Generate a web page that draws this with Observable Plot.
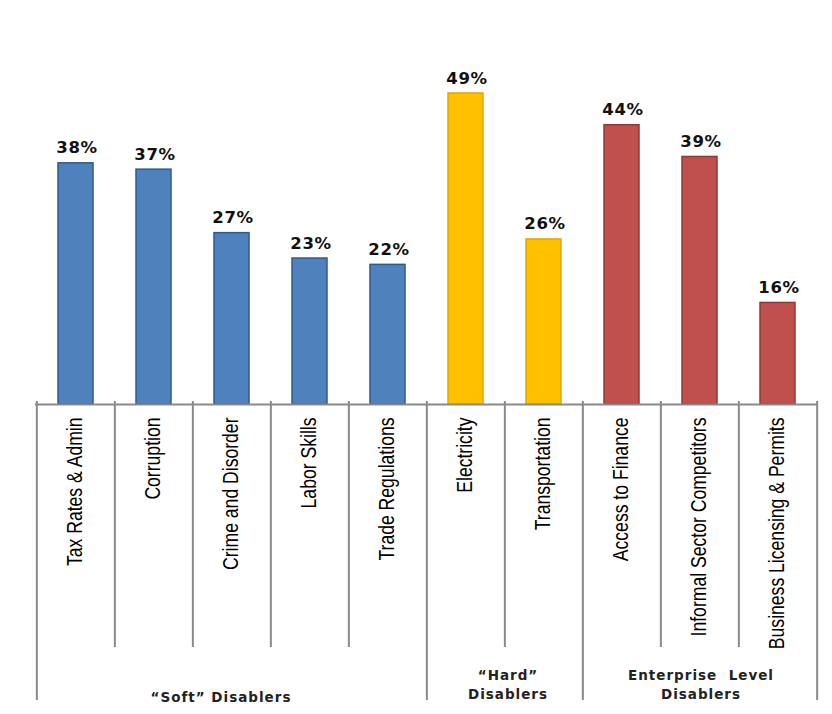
<!DOCTYPE html>
<html>
<head>
<meta charset="utf-8">
<script src="https://cdn.jsdelivr.net/npm/d3@7"></script>
<script src="https://cdn.jsdelivr.net/npm/@observablehq/plot@0.6"></script>
<style>
  html, body { margin: 0; padding: 0; background: #ffffff; }
  #chart { width: 832px; height: 714px; }
  .vallabel text { letter-spacing: 0.6px; }
  .grplabel text { letter-spacing: 1px; }
</style>
</head>
<body>
<div id="chart"></div>
<script>
// ---- data ----
const categories = [
  "Tax Rates & Admin", "Corruption", "Crime and Disorder", "Labor Skills", "Trade Regulations",
  "Electricity", "Transportation",
  "Access to Finance", "Informal Sector Competitors", "Business Licensing & Permits"
];
const values = [38, 37, 27, 23, 22, 49, 26, 44, 39, 16];
const groupOf = ["soft", "soft", "soft", "soft", "soft", "hard", "hard", "ent", "ent", "ent"];
const groupNames = ["soft", "hard", "ent"];
const groupLabels = ["\u201cSoft\u201d Disablers", "\u201cHard\u201d\nDisablers", "Enterprise  Level\nDisablers"];
const groupAnchor = ["Crime and Disorder", "Transportation", "Informal Sector Competitors"];
const groupFill = ["#4f81bd", "#ffc000", "#c0504d"];
const groupStroke = ["#2f5a8c", "#e0a800", "#8e3a38"];

const rows = categories.map((c, i) => ({category: c, value: values[i], group: groupOf[i]}));

// ---- layout ----
const W = 832, H = 714;
const mL = 35, mR = 14, mTop = 93, mBottom = 310;
const n = categories.length;
const step = (W - mL - mR) / n;
const pxPerUnit = (H - mBottom - mTop) / 49;
const innerDrop = 243, groupDrop = 296, lift = 3;

const seps = categories.map((c, i) => ({
  category: c,
  long: i === 0 || groupOf[i] !== groupOf[i - 1]
}));

const groupRows = groupNames.map((g, i) => ({
  group: g, label: groupLabels[i], anchor: groupAnchor[i]
}));

const grpStyle = {
  x: "anchor", y: 0, text: "label",
  lineHeight: 1.4,
  fontFamily: "DejaVu Sans", fontWeight: "bold", fontSize: 13.5, fill: "#222",
  textAnchor: "middle", className: "grplabel"
};

const chart = Plot.plot({
  width: W,
  height: H,
  marginLeft: mL,
  marginRight: mR,
  marginTop: mTop,
  marginBottom: mBottom,
  style: {background: "#ffffff", overflow: "visible"},
  x: {domain: categories, paddingInner: 0.55, paddingOuter: 0.275, axis: null},
  y: {domain: [0, 49], axis: null},
  color: {domain: groupNames, range: groupFill},
  marks: [
    Plot.barY(rows, {
      x: "category", y: "value", fill: "group",
      stroke: d => groupStroke[groupNames.indexOf(d.group)], strokeWidth: 1.5
    }),
    Plot.text(rows, {
      x: "category", y: "value", text: d => d.value + "%",
      lineAnchor: "bottom", dy: -10, dx: 1,
      fontFamily: "DejaVu Sans", fontWeight: "bold", fontSize: 16.5, fill: "#111",
      className: "vallabel"
    }),
    // baseline axis
    Plot.ruleY([0], {stroke: "#8a8a8a", strokeWidth: 2}),
    // separators
    Plot.ruleX(seps, {
      x: "category", dx: -step / 2,
      y1: lift / pxPerUnit,
      y2: d => -(d.long ? groupDrop : innerDrop) / pxPerUnit,
      stroke: "#8a8a8a", strokeWidth: 2
    }),
    Plot.ruleX([categories[n - 1]], {
      x: d => d, dx: step / 2,
      y1: lift / pxPerUnit, y2: -groupDrop / pxPerUnit,
      stroke: "#8a8a8a", strokeWidth: 2
    }),
    // category labels
    Plot.text(rows, {
      x: "category", y: 0, text: "category",
      rotate: -90, textAnchor: "end", dy: 13, dx: -1,
      fontFamily: "Liberation Sans Narrow, Liberation Sans, Arial, sans-serif",
      fontSize: 22, fill: "#000", className: "catlabel"
    }),
    // group labels
    Plot.text(groupRows.filter(d => d.group === "soft"), {...grpStyle, dx: -11, dy: 291}),
    Plot.text(groupRows.filter(d => d.group === "hard"), {...grpStyle, dx: -36, dy: 279}),
    Plot.text(groupRows.filter(d => d.group === "ent"), {...grpStyle, dx: 1, dy: 279})
  ]
});

// condense the category labels along their reading direction (narrow typeface look)
d3.select(chart).selectAll(".catlabel text").each(function () {
  const t = this.getAttribute("transform") || "";
  this.setAttribute("transform", t + " scale(0.8,1)");
});

document.getElementById("chart").appendChild(chart);
</script>
</body>
</html>
